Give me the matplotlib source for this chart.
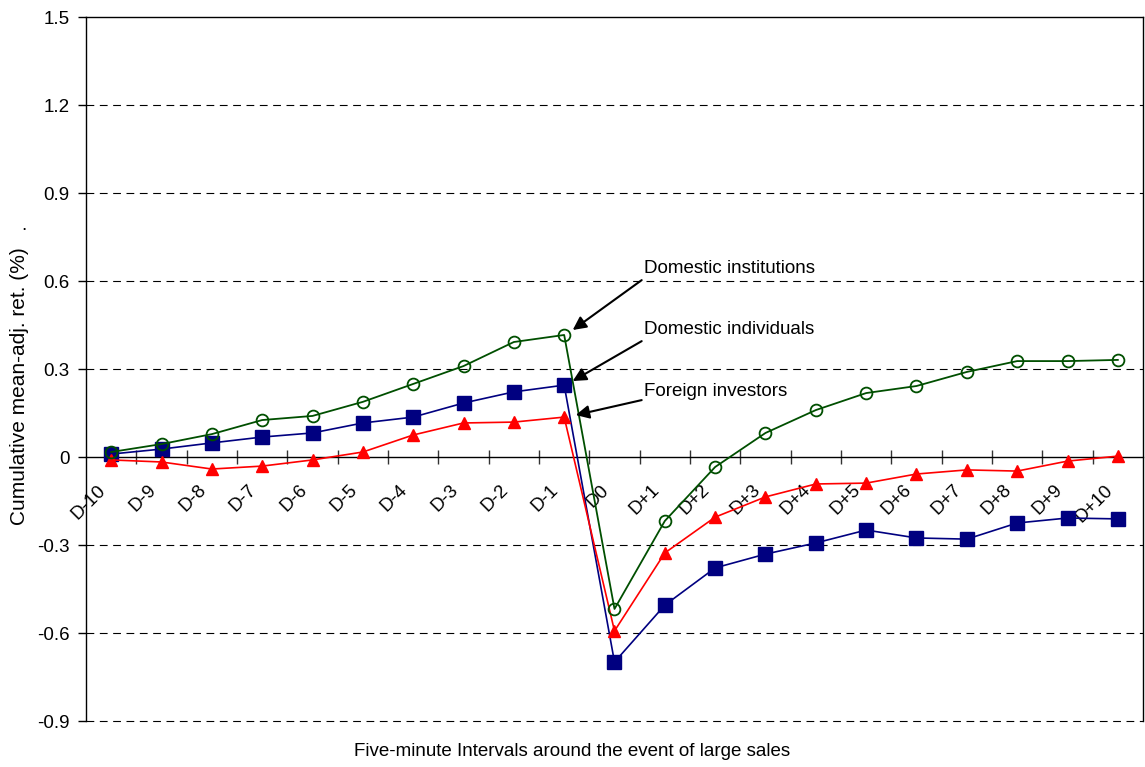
import matplotlib
matplotlib.use("Agg")
import matplotlib.pyplot as plt
from matplotlib.transforms import ScaledTranslation
import numpy as np

plt.rcParams['font.family'] = ['Liberation Sans', 'DejaVu Sans']

labels = ["D-10", "D-9", "D-8", "D-7", "D-6", "D-5", "D-4", "D-3", "D-2", "D-1", "D0",
          "D+1", "D+2", "D+3", "D+4", "D+5", "D+6", "D+7", "D+8", "D+9", "D+10"]

dom_inst = [0.017, 0.044, 0.078, 0.126, 0.140, 0.188, 0.249, 0.310, 0.392, 0.416, -0.518,
            -0.218, -0.034, 0.082, 0.160, 0.218, 0.242, 0.290, 0.327, 0.327, 0.331]
dom_indiv = [0.010, 0.027, 0.048, 0.068, 0.082, 0.116, 0.136, 0.184, 0.222, 0.245, -0.699,
             -0.505, -0.378, -0.331, -0.293, -0.249, -0.276, -0.280, -0.225, -0.208, -0.211]
foreign = [-0.010, -0.017, -0.041, -0.031, -0.010, 0.017, 0.075, 0.116, 0.119, 0.136, -0.593,
           -0.327, -0.205, -0.136, -0.092, -0.089, -0.058, -0.044, -0.048, -0.014, 0.003]

yticks = [-0.9, -0.6, -0.3, 0, 0.3, 0.6, 0.9, 1.2, 1.5]
ytick_labels = ["-0.9", "-0.6", "-0.3", "0", "0.3", "0.6", "0.9", "1.2", "1.5"]

FS = 13.5
x = np.arange(len(labels))

fig = plt.figure(figsize=(11.45, 7.67), dpi=100)
ax = fig.add_axes([86 / 1145, 1 - 721 / 767, (1143 - 86) / 1145, 704 / 767])

# dashed gridlines (incl. the bottom edge at -0.9)
for yv in yticks:
    if yv not in (0, 1.5):
        ax.axhline(yv, color='black', lw=0.8, ls=(0, (7, 5)), zorder=1, clip_on=False)

ax.plot(x, dom_indiv, color='#000080', lw=1.2, marker='s', ms=9.5,
        mfc='#000080', mec='#000080', zorder=3)
ax.plot(x, foreign, color='#ff0000', lw=1.2, marker='^', ms=9,
        mfc='#ff0000', mec='#ff0000', zorder=3)
ax.plot(x, dom_inst, color='#004f00', lw=1.3, marker='o', ms=8.5,
        mfc='none', mec='#004f00', mew=1.3, zorder=4)

ax.set_xlim(-0.5, len(labels) - 0.5)
ax.set_ylim(-0.9, 1.5)

ax.spines['bottom'].set_position(('data', 0))
ax.spines['bottom'].set_linewidth(1.0)
for s in ['left', 'right', 'top']:
    ax.spines[s].set_linewidth(1.0)

ax.set_yticks(yticks)
ax.set_yticklabels(ytick_labels, fontsize=FS)
ax.tick_params(axis='y', direction='out', length=6, width=1, pad=6)

ax.set_xticks(x)
ax.set_xticklabels(labels, fontsize=FS, rotation=45, ha='right', va='center',
                   rotation_mode='anchor')
ax.set_xticks(np.arange(0.5, len(labels) - 1, 1.0), minor=True)
ax.tick_params(axis='x', which='major', length=0, pad=22)
ax.tick_params(axis='x', which='minor', direction='inout', length=10, width=1,
               color='#333333')
shift = ScaledTranslation(-8 / 100, 0, fig.dpi_scale_trans)
for lbl in ax.get_xticklabels():
    lbl.set_transform(lbl.get_transform() + shift)

fig.text(20 / 1145, 1 - 386 / 767, "Cumulative mean-adj. ret. (%)", rotation=90,
         ha='center', va='center', fontsize=15)
fig.text(24 / 1145, 1 - 226 / 767, ".", ha='center', va='center', fontsize=FS)
fig.text(0.5, 1 - 752 / 767, "Five-minute Intervals around the event of large sales",
         ha='center', va='center', fontsize=FS)

arrow = dict(arrowstyle='-|>', color='black', lw=1.5, mutation_scale=20, shrinkA=0, shrinkB=0)
notes = [("Domestic institutions", 10.58, 0.644, 10.54, 0.603, 9.17, 0.433),
         ("Domestic individuals", 10.58, 0.433, 10.54, 0.395, 9.17, 0.259),
         ("Foreign investors", 10.58, 0.222, 10.54, 0.194, 9.23, 0.143)]
for txt, tx, ty, sx, sy, ex, ey in notes:
    ax.text(tx, ty, txt, fontsize=FS, ha='left', va='center', zorder=5)
    ax.annotate('', xy=(ex, ey), xytext=(sx, sy), arrowprops=arrow, zorder=5)

fig.savefig("out.png", dpi=100)
